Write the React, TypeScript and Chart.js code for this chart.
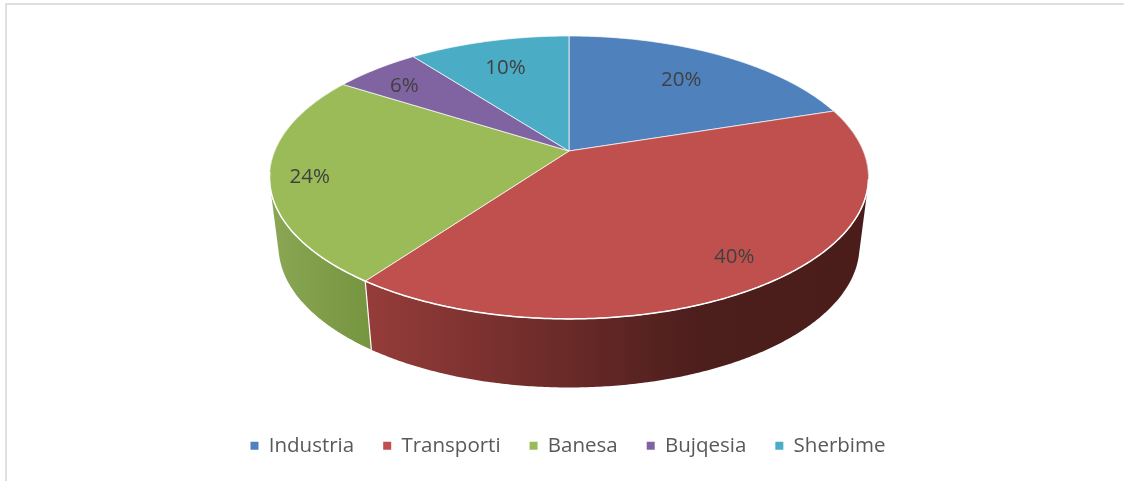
import React, { useEffect, useRef } from "react";
import { Chart, registerables } from "chart.js";

Chart.register(...registerables);

const categories = ["Industria", "Transporti", "Banesa", "Bujqesia", "Sherbime"];
const shares = [20, 40, 24, 5.6, 10.4];
const faceColors = ["#4f81bd", "#c0504d", "#9bbb59", "#8064a2", "#4bacc6"];
// left and right shade of each slice's visible rim: [x, colour] stops
const rimStops: ([number, string][] | null)[] = [
  null,
  [[368, "#953c3a"], [700, "#4c1e1c"], [870, "#4a1d1b"]],
  [[272, "#8aa654"], [372, "#76953f"]],
  null,
  null,
];
const labelRadius = [0.72, 0.83, 0.87, 0.85, 0.75];
const labelNudgeX = [0, 1, 0, 2, -1];
const labelNudgeY = [1, 1, 3, 6, 3];

// camera used to tilt the pie: the disc's centre lands on apex, k is the perspective
const apexX = 569;
const apexY = 151;
const spanX = 294.2;
const spanY = 108.26;
const k = -0.187;
const rimScale = 0.97;
const rimDrop = 68.6;
const lipFrom = 0.2;
const lipTo = 3.0;

const project = (a: number, r = 1) => {
  const x = r * Math.cos(a);
  const y = r * Math.sin(a);
  const w = 1 + k * y;
  return { X: apexX + (spanX * x) / w, Y: (apexY + spanY * y) / w };
};
const rimPoint = (a: number) => {
  const p = project(a);
  return { X: apexX + (p.X - apexX) * rimScale, Y: p.Y + rimDrop };
};

const pie3d = {
  id: "pie3d",
  beforeDraw(chart: any) {
    const { ctx, width, height } = chart;
    ctx.save();
    ctx.fillStyle = "#ffffff";
    ctx.fillRect(0, 0, width, height);
    ctx.fillStyle = "#e0e0e0";
    ctx.fillRect(5, 3, width - 5, 2);
    ctx.fillRect(5, 3, 2, height - 3);
    ctx.restore();
  },
  beforeDatasetsDraw(chart: any) {
    const { ctx } = chart;
    const arcs = chart.getDatasetMeta(0).data;
    const step = Math.PI / 360;
    ctx.save();
    // rims first, so the faces cover everything behind them
    [2, 1].forEach((i) => {
      const stops = rimStops[i];
      if (!stops) return;
      const { startAngle, endAngle } = arcs[i];
      const x0 = stops[0][0];
      const x1 = stops[stops.length - 1][0];
      const grad = ctx.createLinearGradient(x0, 0, x1, 0);
      stops.forEach(([x, c]) => grad.addColorStop((x - x0) / (x1 - x0), c));
      ctx.fillStyle = grad;
      ctx.beginPath();
      for (let a = startAngle; a < endAngle; a += step) {
        const b = Math.min(a + step, endAngle);
        let quad = [project(a), project(b), rimPoint(b), rimPoint(a)];
        let area = 0;
        quad.forEach((p, n) => {
          const q = quad[(n + 1) % 4];
          area += p.X * q.Y - q.X * p.Y;
        });
        if (area < 0) quad = quad.reverse();
        ctx.moveTo(quad[0].X, quad[0].Y);
        quad.slice(1).forEach((p) => ctx.lineTo(p.X, p.Y));
        ctx.closePath();
      }
      ctx.fill();
    });
    // white seam on the rim between the two visible slices
    const seam = arcs[1].endAngle;
    const s1 = project(seam), s2 = rimPoint(seam);
    ctx.strokeStyle = "#ffffff";
    ctx.lineWidth = 1.2;
    ctx.beginPath();
    ctx.moveTo(s1.X, s1.Y);
    ctx.lineTo(s2.X, s2.Y);
    ctx.stroke();
    // top faces
    arcs.forEach((arc: any, i: number) => {
      const { startAngle, endAngle } = arc;
      ctx.beginPath();
      ctx.moveTo(apexX, apexY);
      for (let a = startAngle; a < endAngle; a += step) {
        const p = project(a);
        ctx.lineTo(p.X, p.Y);
      }
      const e = project(endAngle);
      ctx.lineTo(e.X, e.Y);
      ctx.closePath();
      ctx.fillStyle = faceColors[i];
      ctx.fill();
      ctx.strokeStyle = "rgba(255,255,255,0.7)";
      ctx.lineWidth = 1;
      ctx.lineJoin = "round";
      ctx.stroke();
    });
    // brighter lip where the face meets the rim
    ctx.strokeStyle = "#ffffff";
    ctx.lineWidth = 1.5;
    ctx.beginPath();
    for (let a = lipFrom; a < lipTo; a += step) {
      const p = project(a);
      if (a === lipFrom) ctx.moveTo(p.X, p.Y);
      else ctx.lineTo(p.X, p.Y);
    }
    ctx.stroke();
    // value labels
    ctx.fillStyle = "#404040";
    ctx.font = '20.5px "Open Sans"';
    ctx.textAlign = "center";
    ctx.textBaseline = "middle";
    arcs.forEach((arc: any, i: number) => {
      const p = project((arc.startAngle + arc.endAngle) / 2, labelRadius[i]);
      ctx.fillText(`${Math.round(shares[i])}%`, p.X + labelNudgeX[i], p.Y + labelNudgeY[i]);
    });
    ctx.restore();
    return false;
  },
};

export default function App() {
  const ref = useRef<HTMLCanvasElement | null>(null);
  useEffect(() => {
    const chart = new Chart(ref.current!, {
      type: "pie",
      data: {
        labels: categories,
        datasets: [{ data: shares, backgroundColor: faceColors, borderWidth: 0 }],
      },
      options: {
        responsive: false,
        animation: false,
        layout: { padding: { left: 12, right: 0, top: 0, bottom: 15 } },
        plugins: {
          tooltip: { enabled: false },
          legend: {
            position: "bottom",
            labels: {
              color: "#595959",
              boxWidth: 8,
              boxHeight: 8,
              padding: 29,
              font: { family: '"Open Sans"', size: 20.5 },
            },
          },
        },
      },
      plugins: [pie3d],
    } as any);
    return () => chart.destroy();
  }, []);
  return (
    <div style={{ position: "fixed", inset: 0, overflow: "hidden", background: "#fff" }}>
      <canvas ref={ref} width={1124} height={481} style={{ display: "block" }} />
    </div>
  );
}
